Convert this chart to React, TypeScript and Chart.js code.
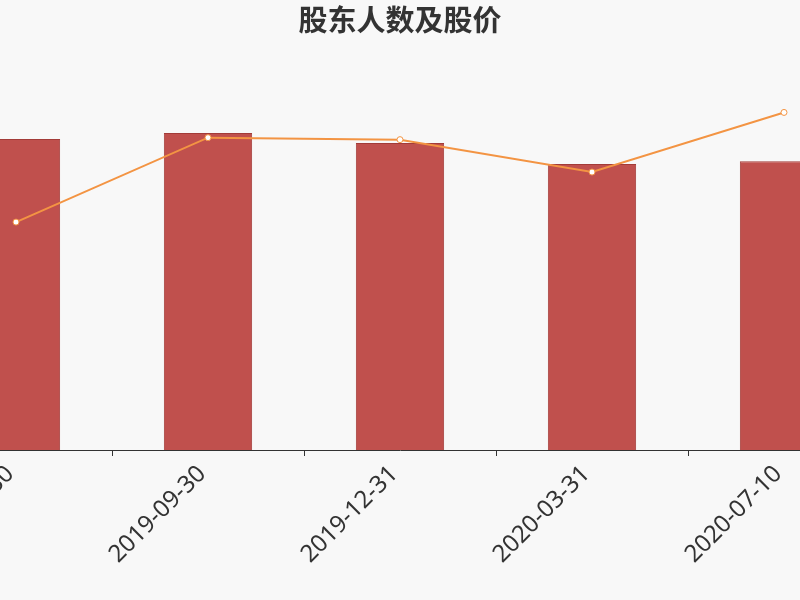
import React, { useEffect, useRef } from "react";
import { Chart, registerables } from "chart.js";

Chart.register(...registerables);

const categories = ["2019-06-30", "2019-09-30", "2019-12-31", "2020-03-31", "2020-07-10"];
const shareholders = [31090, 31690, 30690, 28590, 28850];
const prices = [11.39, 15.61, 15.51, 13.89, 16.87];

export default function App() {
  const ref = useRef<HTMLCanvasElement | null>(null);
  useEffect(() => {
    if (!ref.current) return;
    const chart = new Chart(ref.current, {
      type: "bar",
      data: {
        labels: categories,
        datasets: [
          {
            type: "line",
            label: "股价",
            data: prices,
            yAxisID: "y1",
            borderColor: "#f39443",
            backgroundColor: "#ffffff",
            borderWidth: 2,
            pointRadius: 3,
            pointBorderWidth: 1,
            pointBackgroundColor: "#ffffff",
            pointBorderColor: "#f39443",
            tension: 0,
            order: 0,
          },
          {
            type: "bar",
            label: "股东人数",
            data: shareholders,
            yAxisID: "y",
            backgroundColor: "#c0504d",
            borderColor: "#a33b38",
            borderWidth: 1,
            categoryPercentage: 1,
            barPercentage: 0.46,
            order: 1,
          },
        ],
      },
      options: {
        responsive: false,
        animation: false,
        layout: { padding: 0 },
        plugins: {
          legend: { display: false },
          tooltip: { enabled: false },
          title: {
            display: true,
            text: "股东人数及股价",
            color: "#333333",
            font: { family: "'Noto Sans CJK SC', sans-serif", size: 29, weight: "bold" },
            padding: { top: 3, bottom: 12 },
          },
        },
        scales: {
          x: {
            offset: true,
            grid: {
              display: true,
              offset: true,
              drawOnChartArea: false,
              drawTicks: true,
              tickLength: 6,
              color: "#333333",
            },
            border: { display: true, color: "#333333", width: 1 },
            ticks: {
              minRotation: 45,
              maxRotation: 45,
              autoSkip: false,
              padding: 4,
              labelOffset: -6,
              color: "#333333",
              font: { family: "'Noto Sans', sans-serif", size: 24 },
            },
            afterFit: (scale: any) => {
              scale.height = 150;
              scale.paddingLeft = 0;
              scale.paddingRight = 0;
            },
          },
          y: {
            display: false,
            min: 0,
            max: 40000,
          },
          y1: {
            display: false,
            position: "right",
            min: 0,
            max: 20,
          },
        },
      },
    });
    return () => chart.destroy();
  }, []);
  return (
    <div
      style={{
        position: "fixed",
        left: 0,
        top: 0,
        width: 800,
        height: 600,
        overflow: "hidden",
        background: "#f8f8f8",
      }}
    >
      <canvas
        ref={ref}
        width={970}
        height={600}
        style={{ position: "absolute", left: -85, top: 0, width: 970, height: 600 }}
      />
    </div>
  );
}
